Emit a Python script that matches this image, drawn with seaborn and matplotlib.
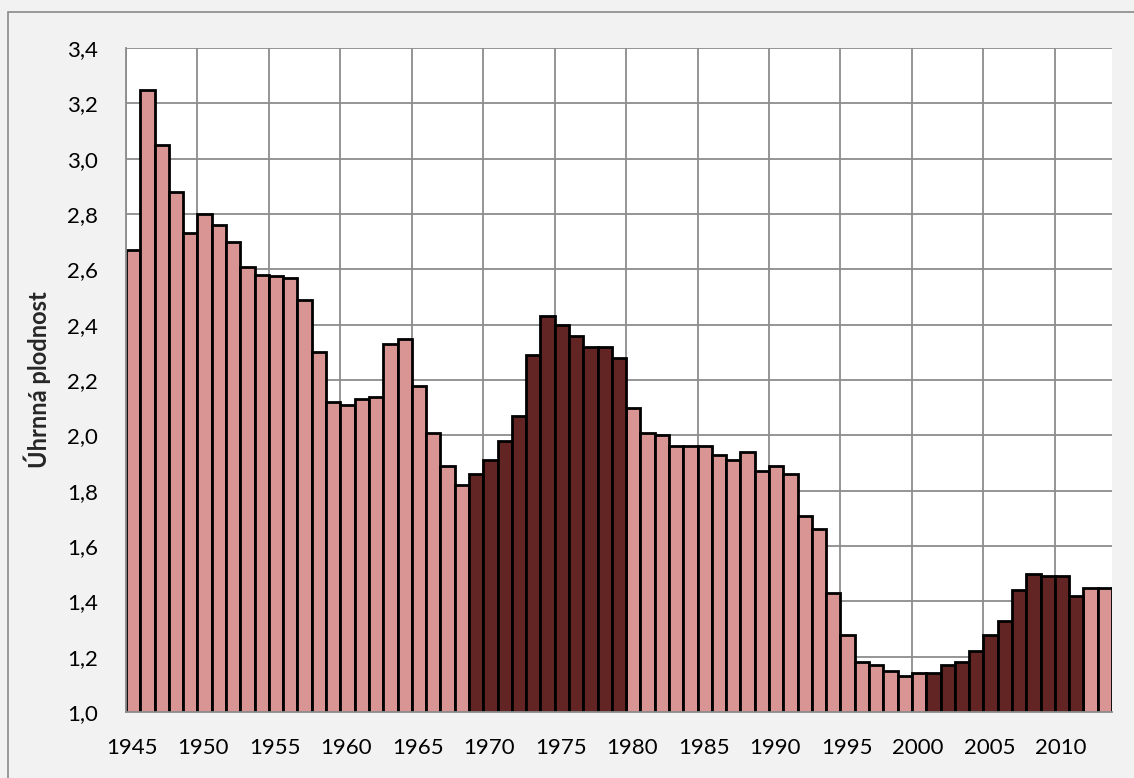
import numpy as np
import pandas as pd
import matplotlib
matplotlib.use("Agg")
import matplotlib.pyplot as plt
import matplotlib.patches as mpatches
import matplotlib.transforms as mtransforms
import seaborn as sns

# total fertility rate, Czech lands, 1945-2013
years = list(range(1945, 2014))
tfr = [2.67, 3.25, 3.05, 2.88, 2.73, 2.80, 2.76, 2.70, 2.61, 2.58,
       2.575, 2.57, 2.49, 2.30, 2.12, 2.11, 2.13, 2.14, 2.33, 2.35,
       2.18, 2.01, 1.89, 1.82, 1.86, 1.91, 1.98, 2.07, 2.29, 2.43,
       2.40, 2.36, 2.32, 2.32, 2.28, 2.10, 2.01, 2.00, 1.96, 1.96,
       1.96, 1.93, 1.91, 1.94, 1.87, 1.89, 1.86, 1.71, 1.66, 1.43,
       1.28, 1.18, 1.17, 1.15, 1.13, 1.14, 1.14, 1.17, 1.18, 1.22,
       1.28, 1.33, 1.44, 1.50, 1.49, 1.49, 1.42, 1.45, 1.45]
dark_periods = [(1969, 1979), (2001, 2011)]
group = ["dark" if any(a <= y <= b for a, b in dark_periods) else "light" for y in years]

yticks = [1.0, 1.2, 1.4, 1.6, 1.8, 2.0, 2.2, 2.4, 2.6, 2.8, 3.0, 3.2, 3.4]
xtick_years = list(range(1945, 2014, 5))

df = pd.DataFrame({"rok": [str(y) for y in years], "tfr": tfr, "skupina": group})

sns.set_style("white")
plt.rcParams["font.family"] = ["Lato", "DejaVu Sans"]

bg = "#f2f2f2"
grid_c = "#8c8c8c"
tick_fs = 16
fig = plt.figure(figsize=(11.34, 7.78), dpi=100, facecolor=bg)
ax = fig.add_axes([126 / 1134, 1 - 712 / 778, (1112 - 126) / 1134, (712 - 48) / 778])
ax.set_facecolor("white")

# outer frame of the chart area
fig.patches.append(mpatches.Rectangle((8 / 1134, -0.1), 1.2, 1 - 12 / 778 + 0.1,
                                      transform=fig.transFigure, fill=False,
                                      edgecolor="#8a8a8a", linewidth=1.2, zorder=0))

sns.barplot(data=df, x="rok", y="tfr", hue="skupina", dodge=False, legend=False,
            palette={"light": "#d99594", "dark": "#632523"}, saturation=1,
            width=1.0, edgecolor="black", linewidth=2.0, ax=ax, zorder=3)

ax.set_ylim(1.0, 3.4)
ax.set_xlim(-0.5, len(years) - 0.5)
pos = [years.index(y) - 0.5 for y in xtick_years]
ax.set_xticks(pos)
ax.set_xticklabels([str(y) for y in xtick_years], fontsize=tick_fs)
ax.set_yticks(yticks)
ax.set_yticklabels([f"{v:.1f}".replace(".", ",") for v in yticks], fontsize=tick_fs)

ax.grid(True, color=grid_c, linewidth=1.3)
ax.set_axisbelow(True)
for s in ["top", "right"]:
    ax.spines[s].set_visible(False)
for s in ["left", "bottom"]:
    ax.spines[s].set_color(grid_c)
    ax.spines[s].set_linewidth(1.3)
    ax.spines[s].set_zorder(5)

ax.tick_params(axis="both", direction="out", length=8, width=1.3, color=grid_c,
               labelcolor="black")
ax.tick_params(axis="x", pad=11)
ax.tick_params(axis="y", pad=12)

# year labels sit a little right of their ticks, like in the original
shift = mtransforms.ScaledTranslation(0.06, 0, fig.dpi_scale_trans)
for lab in ax.get_xticklabels():
    lab.set_transform(lab.get_transform() + shift)

ax.set_xlabel("")
ax.set_ylabel("Úhrnná plodnost", fontsize=17, fontweight="bold", labelpad=12)

fig.savefig("out.png", dpi=100, facecolor=bg)
